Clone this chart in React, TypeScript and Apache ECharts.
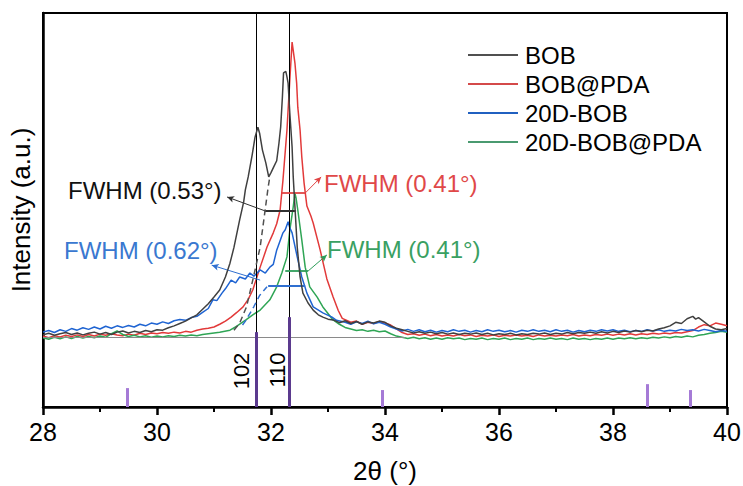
import React, { useEffect, useRef } from "react";
import * as echarts from "echarts";

const FONT = "'Liberation Sans', Arial, sans-serif";

const seriesNames = ["BOB", "BOB@PDA", "20D-BOB", "20D-BOB@PDA"];
const seriesColors = ["#404040", "#e23a3a", "#1f64d2", "#2fa555"];
const legendColors = ["#505050", "#d44a4a", "#2060c0", "#4a9a70"];

const BOB: [number, number][] = [
  [28.0, 18.3], [28.1, 18.7], [28.2, 18.2], [28.3, 18.6], [28.4, 18.9], [28.5, 18.4], [28.6, 18.8], [28.7, 18.3],
  [28.8, 18.7], [28.9, 19.0], [29.0, 18.5], [29.1, 18.9], [29.2, 18.4], [29.3, 19.0], [29.4, 19.3], [29.5, 18.8],
  [29.6, 19.2], [29.7, 18.9], [29.8, 19.4], [29.9, 19.1], [30.0, 19.6], [30.1, 19.5], [30.2, 20.1], [30.3, 20.6],
  [30.4, 21.2], [30.5, 21.8], [30.6, 22.6], [30.7, 23.4], [30.8, 24.8], [30.9, 26.2], [31.0, 27.9], [31.1, 29.7],
  [31.2, 33.0], [31.28, 36.5], [31.35, 40.5], [31.45, 47.5], [31.52, 52.0], [31.55, 55.1], [31.6, 58.4],
  [31.67, 64.0], [31.72, 68.5], [31.77, 71.0], [31.8, 69.5], [31.85, 65.2], [31.91, 61.9], [31.96, 58.4],
  [32.0, 59.5], [32.05, 61.0], [32.1, 62.5], [32.14, 67.0], [32.17, 71.1], [32.2, 78.7], [32.22, 84.8],
  [32.26, 85.2], [32.28, 83.8], [32.3, 82.2], [32.33, 74.6], [32.37, 66.0], [32.39, 58.4], [32.42, 50.8],
  [32.46, 40.6], [32.51, 33.0], [32.56, 28.9], [32.65, 26.4], [32.74, 24.6], [32.83, 23.4], [32.91, 22.8],
  [33.0, 22.3], [33.09, 22.1], [33.2, 21.4], [33.3, 21.9], [33.4, 21.2], [33.5, 21.7], [33.6, 21.0], [33.7, 21.6],
  [33.8, 21.3], [33.9, 21.8], [34.0, 21.5], [34.1, 20.6], [34.2, 20.0], [34.3, 19.6], [34.4, 19.2], [34.5, 18.8],
  [34.6, 19.1], [34.7, 18.7], [34.8, 19.0], [34.9, 18.6], [35.0, 18.9], [35.1, 18.5], [35.2, 18.8], [35.3, 18.4],
  [35.4, 18.7], [35.5, 18.5], [35.6, 18.8], [35.7, 18.4], [35.8, 18.7], [35.9, 18.3], [36.0, 18.6], [36.1, 18.4],
  [36.2, 18.7], [36.3, 18.3], [36.4, 18.6], [36.5, 18.4], [36.6, 18.7], [36.7, 18.5], [36.8, 18.8], [36.9, 18.4],
  [37.0, 18.7], [37.1, 18.5], [37.2, 18.9], [37.3, 18.6], [37.4, 18.9], [37.5, 18.7], [37.6, 19.0], [37.7, 18.7],
  [37.8, 19.1], [37.9, 18.8], [38.0, 19.2], [38.1, 18.9], [38.2, 19.3], [38.3, 19.0], [38.4, 19.4], [38.5, 19.1],
  [38.6, 19.5], [38.7, 19.3], [38.8, 19.8], [38.9, 20.1], [39.0, 20.6], [39.1, 21.5], [39.2, 21.2], [39.3, 22.4],
  [39.4, 23.0], [39.45, 22.3], [39.5, 22.7], [39.6, 21.6], [39.7, 20.5], [39.8, 19.8], [39.9, 19.6], [40.0, 19.9],
];

const BOB_PDA: [number, number][] = [
  [28.0, 18.0], [28.1, 17.6], [28.2, 18.1], [28.3, 17.8], [28.4, 18.2], [28.5, 17.9], [28.6, 18.3], [28.7, 17.9],
  [28.8, 18.4], [28.9, 18.0], [29.0, 18.5], [29.1, 18.2], [29.2, 18.6], [29.3, 18.3], [29.4, 18.1], [29.5, 18.5],
  [29.6, 18.2], [29.7, 18.7], [29.8, 18.4], [29.9, 18.8], [30.0, 18.6], [30.1, 18.9], [30.2, 18.7], [30.3, 19.0],
  [30.4, 18.8], [30.5, 19.2], [30.6, 19.0], [30.7, 19.5], [30.8, 19.8], [30.9, 20.0], [31.0, 20.3], [31.1, 21.0],
  [31.2, 21.8], [31.3, 22.8], [31.4, 24.0], [31.51, 25.4], [31.6, 27.3], [31.68, 29.7], [31.81, 35.5],
  [31.93, 40.6], [32.04, 44.2], [32.1, 46.5], [32.16, 50.0], [32.21, 57.6], [32.28, 70.3], [32.33, 83.0],
  [32.37, 92.6], [32.42, 87.3], [32.45, 82.2], [32.47, 76.1], [32.51, 70.3], [32.54, 63.5], [32.58, 56.9],
  [32.63, 51.0], [32.7, 48.5], [32.74, 46.7], [32.86, 40.0], [32.98, 32.5], [33.09, 27.9], [33.18, 24.5],
  [33.25, 22.5], [33.4, 21.5], [33.5, 21.8], [33.6, 21.0], [33.7, 21.5], [33.8, 21.2], [33.9, 21.7], [34.0, 21.3],
  [34.1, 20.8], [34.2, 19.8], [34.3, 18.9], [34.4, 18.4], [34.5, 18.6], [34.6, 18.2], [34.7, 18.5], [34.8, 18.1],
  [34.9, 18.4], [35.0, 18.0], [35.1, 18.3], [35.2, 18.0], [35.3, 18.4], [35.4, 18.1], [35.5, 18.3], [35.6, 17.9],
  [35.7, 18.2], [35.8, 18.0], [35.9, 18.3], [36.0, 17.9], [36.1, 18.2], [36.2, 18.0], [36.3, 18.3], [36.4, 18.0],
  [36.5, 18.2], [36.6, 17.9], [36.7, 18.3], [36.8, 18.0], [36.9, 18.2], [37.0, 18.0], [37.1, 18.3], [37.2, 18.1],
  [37.3, 18.4], [37.4, 18.0], [37.5, 18.3], [37.6, 18.1], [37.7, 18.4], [37.8, 18.2], [37.9, 18.5], [38.0, 18.2],
  [38.1, 18.5], [38.2, 18.3], [38.3, 18.6], [38.4, 18.3], [38.5, 18.6], [38.6, 18.4], [38.7, 18.7], [38.8, 18.5],
  [38.9, 18.8], [39.0, 18.6], [39.1, 18.9], [39.2, 18.8], [39.3, 19.1], [39.4, 19.4], [39.5, 20.3], [39.6, 20.9],
  [39.7, 20.6], [39.8, 21.3], [39.9, 21.0], [40.0, 20.6],
];

const D20_BOB: [number, number][] = [
  [28.0, 19.0], [28.1, 19.4], [28.2, 18.9], [28.3, 19.6], [28.4, 19.2], [28.5, 19.9], [28.6, 19.5], [28.7, 20.1],
  [28.8, 19.7], [28.9, 20.3], [29.0, 19.8], [29.1, 20.5], [29.2, 20.0], [29.3, 20.6], [29.4, 20.2], [29.5, 20.7],
  [29.6, 20.3], [29.7, 21.0], [29.8, 20.6], [29.9, 21.3], [30.0, 21.0], [30.1, 21.6], [30.2, 21.2], [30.3, 21.9],
  [30.4, 22.2], [30.5, 22.0], [30.6, 22.7], [30.7, 23.0], [30.8, 24.0], [30.9, 25.0], [30.98, 27.2], [31.05, 27.0],
  [31.14, 28.9], [31.2, 30.0], [31.3, 32.2], [31.38, 31.5], [31.45, 33.0], [31.55, 32.5], [31.63, 34.0],
  [31.7, 33.2], [31.81, 34.8], [31.9, 34.0], [31.98, 35.5], [32.04, 36.2], [32.1, 39.8], [32.21, 44.2],
  [32.25, 45.0], [32.3, 47.0], [32.33, 45.5], [32.37, 44.2], [32.46, 38.1], [32.54, 33.0], [32.63, 28.9],
  [32.74, 25.4], [32.91, 23.9], [33.07, 22.8], [33.15, 22.0], [33.3, 21.5], [33.4, 21.0], [33.5, 21.6],
  [33.6, 21.2], [33.7, 21.8], [33.8, 21.1], [33.9, 21.5], [34.0, 21.0], [34.1, 20.3], [34.2, 19.8], [34.3, 19.3],
  [34.4, 19.7], [34.5, 19.2], [34.6, 19.6], [34.7, 19.1], [34.8, 19.5], [34.9, 19.0], [35.0, 19.4], [35.1, 19.1],
  [35.2, 19.6], [35.3, 19.2], [35.4, 19.5], [35.5, 19.0], [35.6, 19.4], [35.7, 19.1], [35.8, 19.6], [35.9, 19.2],
  [36.0, 19.5], [36.1, 19.1], [36.2, 19.4], [36.3, 19.0], [36.4, 19.5], [36.5, 19.2], [36.6, 19.6], [36.7, 19.2],
  [36.8, 19.5], [36.9, 19.1], [37.0, 19.6], [37.1, 19.2], [37.2, 19.5], [37.3, 19.0], [37.4, 19.4], [37.5, 19.1],
  [37.6, 19.5], [37.7, 19.2], [37.8, 19.6], [37.9, 19.3], [38.0, 19.6], [38.1, 19.2], [38.2, 19.5], [38.3, 19.1],
  [38.4, 19.4], [38.5, 19.2], [38.6, 19.6], [38.7, 19.3], [38.8, 19.6], [38.9, 19.2], [39.0, 19.5], [39.1, 19.3],
  [39.2, 19.7], [39.3, 19.4], [39.4, 19.6], [39.5, 19.3], [39.6, 19.7], [39.7, 19.4], [39.8, 19.1], [39.9, 19.4],
  [40.0, 19.2],
];

const D20_BOB_PDA: [number, number][] = [
  [28.0, 17.6], [28.1, 17.2], [28.2, 17.7], [28.3, 17.3], [28.4, 17.8], [28.5, 17.4], [28.6, 17.9], [28.7, 17.5],
  [28.8, 17.9], [28.9, 17.6], [29.0, 18.0], [29.1, 17.7], [29.2, 18.6], [29.3, 19.3], [29.4, 18.4], [29.5, 17.9],
  [29.6, 18.2], [29.7, 17.8], [29.8, 18.1], [29.9, 17.7], [30.0, 18.0], [30.1, 17.8], [30.2, 18.1], [30.3, 17.9],
  [30.4, 18.2], [30.5, 18.0], [30.6, 18.3], [30.7, 18.1], [30.8, 18.4], [30.9, 18.6], [31.0, 18.8], [31.1, 19.0],
  [31.28, 19.5], [31.4, 20.5], [31.56, 22.1], [31.68, 23.4], [31.81, 24.6], [31.98, 27.2], [32.1, 30.5],
  [32.19, 34.0], [32.28, 38.1], [32.33, 44.9], [32.39, 50.8], [32.42, 54.3], [32.44, 53.0], [32.47, 50.0],
  [32.54, 42.4], [32.6, 35.5], [32.68, 30.5], [32.81, 27.9], [32.91, 25.4], [33.09, 22.1], [33.2, 21.0],
  [33.3, 20.2], [33.4, 19.8], [33.5, 19.4], [33.6, 19.6], [33.7, 19.2], [33.8, 19.5], [33.9, 19.1], [34.0, 19.3],
  [34.1, 18.6], [34.2, 18.0], [34.3, 17.7], [34.4, 17.4], [34.5, 17.7], [34.6, 17.3], [34.7, 17.6], [34.8, 17.2],
  [34.9, 17.5], [35.0, 17.2], [35.1, 17.6], [35.2, 17.3], [35.3, 17.5], [35.4, 17.1], [35.5, 17.4], [35.6, 17.2],
  [35.7, 17.5], [35.8, 17.1], [35.9, 17.4], [36.0, 17.2], [36.1, 17.5], [36.2, 17.1], [36.3, 17.4], [36.4, 17.2],
  [36.5, 17.5], [36.6, 17.1], [36.7, 17.4], [36.8, 17.2], [36.9, 17.5], [37.0, 17.2], [37.1, 17.4], [37.2, 17.1],
  [37.3, 17.5], [37.4, 17.2], [37.5, 17.4], [37.6, 17.1], [37.7, 17.4], [37.8, 17.2], [37.9, 17.5], [38.0, 17.2],
  [38.1, 17.5], [38.2, 17.3], [38.3, 17.6], [38.4, 17.3], [38.5, 17.6], [38.6, 17.4], [38.7, 17.7], [38.8, 17.5],
  [38.9, 17.8], [39.0, 17.6], [39.1, 17.9], [39.2, 17.7], [39.3, 18.0], [39.4, 17.8], [39.5, 18.2], [39.6, 18.4],
  [39.7, 18.7], [39.8, 18.9], [39.9, 19.2], [40.0, 19.0],
];

const BOB_FIT_DASH: [number, number][] = [
  [31.35, 19.5], [31.45, 21.3], [31.57, 25.4], [31.68, 32.2], [31.81, 40.6], [31.89, 49.2], [31.95, 55.8], [31.98, 58.4],
];
const D20_FIT_DASH: [number, number][] = [
  [31.5, 20.8], [31.56, 22.0], [31.7, 25.5], [31.8, 28.3], [31.93, 30.5],
];

// reference sticks (2θ, relative height) and hkl labels
const stickPos = [29.47, 31.74, 32.32, 33.96, 38.6, 39.35];
const stickHeight = [4.8, 19.0, 22.8, 4.3, 5.8, 4.3];
const stickDark = [false, true, true, false, false, false];
const hklPos = [31.74, 32.32];
const hklLabels = ["102", "110"];

const baselineLevel = 17.8;
const baselineEnd = 34.35;

// FWHM bars: [x1, x2, y], arrows: [x1, y1, x2, y2]
const fwhmBars: [number, number, number][] = [
  [31.89, 32.44, 49.7],
  [32.19, 32.6, 54.3],
  [31.95, 32.6, 30.7],
  [32.25, 32.65, 34.5],
];
const fwhmArrows: [number, number, number, number][] = [
  [31.91, 49.7, 31.23, 53.3],
  [32.6, 54.3, 32.88, 58.4],
  [31.81, 32.2, 30.96, 36.0],
  [32.65, 34.5, 32.98, 38.6],
];
const fwhmLabels = ["FWHM (0.53°)", "FWHM (0.41°)", "FWHM (0.62°)", "FWHM (0.41°)"];
const fwhmColors = ["#303030", "#e04545", "#2f6fd0", "#2e9d5a"];
const fwhmTextColors = ["#111111", "#e04848", "#3a78d0", "#3aa062"];

export default function App() {
  const ref = useRef<HTMLDivElement>(null);
  useEffect(() => {
    if (!ref.current) return;
    const chart = echarts.init(ref.current, undefined, { renderer: "svg" });

    const lineSeries = (name: string, data: [number, number][], color: string, z: number) => ({
      name,
      type: "line",
      data,
      symbol: "none",
      showSymbol: false,
      z,
      lineStyle: { color, width: 1.5 },
      itemStyle: { color },
    });

    const annotationLines: any[] = [];
    hklPos.forEach((x) => {
      annotationLines.push([
        { coord: [x, 0], symbol: "none" },
        { coord: [x, 100], symbol: "none", lineStyle: { color: "#000", width: 1, type: "solid" } },
      ]);
    });
    annotationLines.push([
      { coord: [28, baselineLevel], symbol: "none" },
      { coord: [baselineEnd, baselineLevel], symbol: "none", lineStyle: { color: "#8a8a8a", width: 1, type: "solid" } },
    ]);
    stickPos.forEach((x, i) => {
      annotationLines.push([
        { coord: [x, 0], symbol: "none" },
        {
          coord: [x, stickHeight[i]],
          symbol: "none",
          lineStyle: { color: stickDark[i] ? "#5b3a8e" : "#a57ad6", width: 3, type: "solid" },
        },
      ]);
    });
    fwhmBars.forEach((b, i) => {
      annotationLines.push([
        { coord: [b[0], b[2]], symbol: "none" },
        { coord: [b[1], b[2]], symbol: "none", lineStyle: { color: fwhmColors[i], width: 1.8, type: "solid" } },
      ]);
    });
    fwhmArrows.forEach((a, i) => {
      annotationLines.push([
        { coord: [a[0], a[1]], symbol: "none" },
        {
          coord: [a[2], a[3]],
          symbol: "arrow",
          symbolSize: [5, 7],
          lineStyle: { color: fwhmColors[i], width: 1, type: "solid" },
          itemStyle: { color: fwhmColors[i] },
        },
      ]);
    });

    const textPos: [number, number][] = [
      [68, 190],
      [324, 183],
      [64, 250],
      [327, 249],
    ];
    const hklTextPos: [number, number][] = [
      [241, 371],
      [277, 370],
    ];

    const option: any = {
      animation: false,
      backgroundColor: "#ffffff",
      textStyle: { fontFamily: FONT },
      grid: {
        left: 43,
        right: 16,
        top: 13,
        bottom: 79,
        containLabel: false,
        outerBoundsMode: "none",
        show: true,
        borderColor: "#000",
        borderWidth: 2,
        backgroundColor: "transparent",
      },
      legend: {
        data: seriesNames.map((n, i) => ({ name: n, itemStyle: { color: legendColors[i] } })),
        orient: "vertical",
        left: 463,
        top: 38,
        icon: "rect",
        itemWidth: 50,
        itemHeight: 2,
        itemGap: 5,
        textStyle: { fontFamily: FONT, fontSize: 24, color: "#000", padding: [0, 0, 0, 2] },
      },
      xAxis: {
        type: "value",
        min: 28,
        max: 40,
        interval: 2,
        name: "2θ (°)",
        nameLocation: "middle",
        nameGap: 51,
        nameTextStyle: { fontFamily: FONT, fontSize: 26, color: "#000" },
        axisLine: { show: true, onZero: false, lineStyle: { color: "#000", width: 2.5 } },
        axisTick: { show: true, inside: false, length: 8, lineStyle: { color: "#000", width: 2.5 } },
        minorTick: { show: true, splitNumber: 2, length: 5, lineStyle: { color: "#000", width: 2 } },
        axisLabel: { fontFamily: FONT, fontSize: 25, color: "#000", margin: 12 },
        splitLine: { show: false },
      },
      yAxis: {
        type: "value",
        min: 0,
        max: 100,
        name: "Intensity (a.u.)",
        nameLocation: "middle",
        nameGap: 9,
        nameRotate: 90,
        nameTextStyle: { fontFamily: FONT, fontSize: 26, color: "#000" },
        axisLine: { show: true, onZero: false, lineStyle: { color: "#000", width: 2.5 } },
        axisTick: { show: false },
        axisLabel: { show: false },
        splitLine: { show: false },
      },
      series: [
        {
          name: "annotations",
          type: "line",
          data: [],
          silent: true,
          z: 1,
          markLine: {
            silent: true,
            animation: false,
            symbol: ["none", "none"],
            label: { show: false },
            emphasis: { disabled: true },
            data: annotationLines,
          },
        },
        lineSeries(seriesNames[1], BOB_PDA, seriesColors[1], 2),
        lineSeries(seriesNames[3], D20_BOB_PDA, seriesColors[3], 3),
        lineSeries(seriesNames[2], D20_BOB, seriesColors[2], 4),
        lineSeries(seriesNames[0], BOB, seriesColors[0], 5),
        {
          name: "BOB fit",
          type: "line",
          data: BOB_FIT_DASH,
          symbol: "none",
          z: 5,
          lineStyle: { color: "#505050", width: 1.5, type: [6, 4] },
        },
        {
          name: "20D-BOB fit",
          type: "line",
          data: D20_FIT_DASH,
          symbol: "none",
          z: 5,
          lineStyle: { color: "#2f6fd0", width: 1.5, type: [6, 4] },
        },
      ],
      graphic: [
        ...fwhmLabels.map((t, i) => ({
          type: "text",
          x: textPos[i][0],
          y: textPos[i][1],
          z: 10,
          style: {
            text: t,
            fill: fwhmTextColors[i],
            font: `24px ${FONT}`,
            textAlign: "left",
            textVerticalAlign: "middle",
          },
        })),
        ...hklLabels.map((t, i) => ({
          type: "text",
          x: hklTextPos[i][0],
          y: hklTextPos[i][1],
          rotation: Math.PI / 2,
          z: 10,
          style: { text: t, fill: "#000", font: `22px ${FONT}`, textAlign: "center", textVerticalAlign: "middle" },
        })),
      ],
    };
    chart.setOption(option);
    return () => chart.dispose();
  }, []);

  return (
    <div
      ref={ref}
      style={{ position: "absolute", left: 0, top: 0, width: 743, height: 486, background: "#fff" }}
    />
  );
}
